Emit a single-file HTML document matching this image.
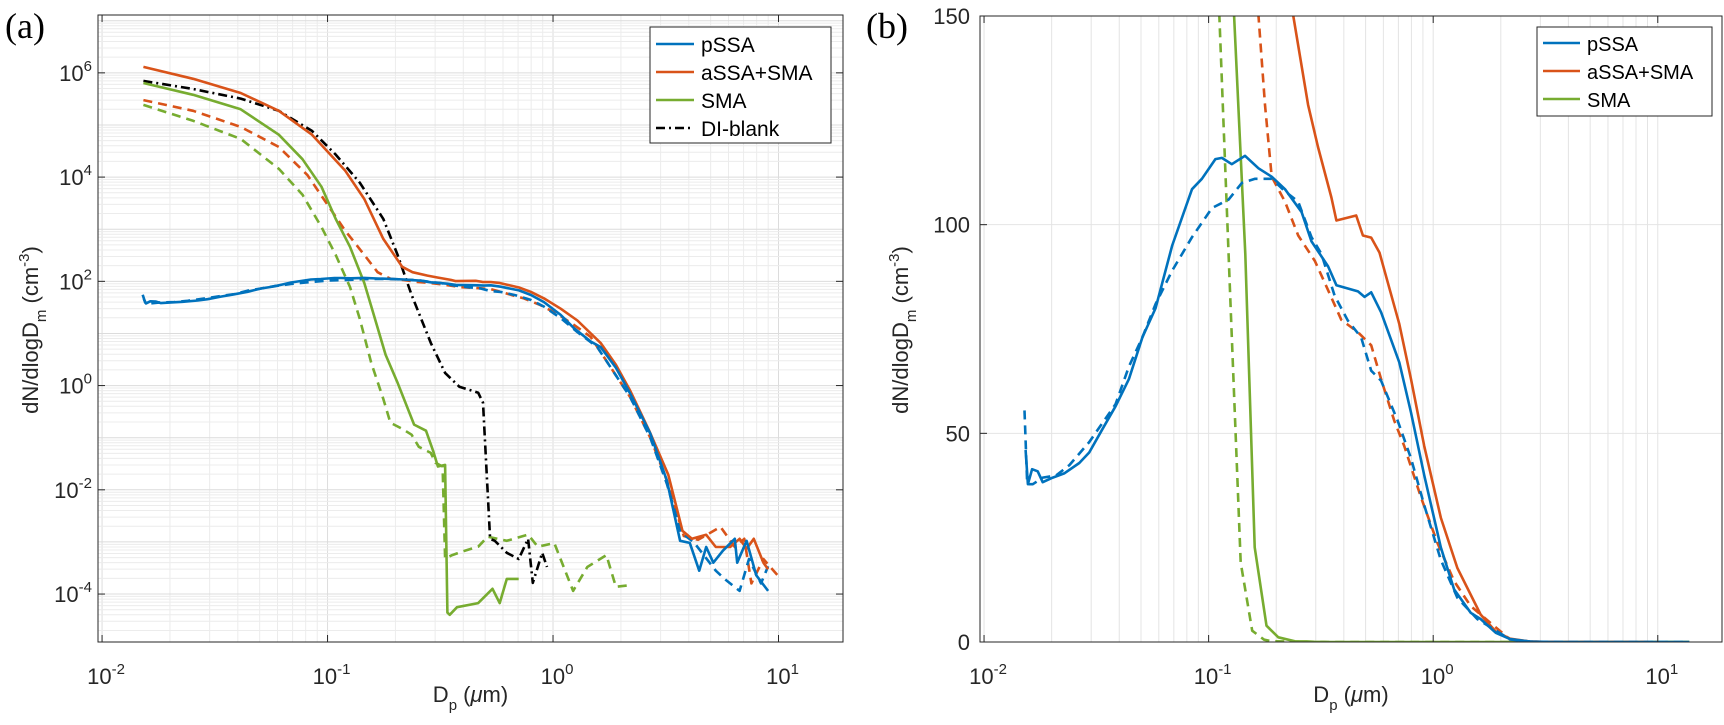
<!DOCTYPE html>
<html><head><meta charset="utf-8"><style>
body{margin:0;background:#fff}
svg{display:block;font-family:"Liberation Sans",sans-serif}
</style></head><body>
<svg id="fig" width="1724" height="725" viewBox="0 0 1724 725" xmlns="http://www.w3.org/2000/svg">
<text x="5" y="38" font-family="Liberation Serif,serif" font-size="36">(a)</text>
<text x="866" y="38" font-family="Liberation Serif,serif" font-size="36">(b)</text>
<g id="pa"></g>
<g id="pb"></g>
</svg>
<script>
// ---- data (Dp in µm, dN/dlogDm in cm^-3) ----
const pssaSolid = [[0.01531,46],[0.01567,37.8],[0.01637,41.4],[0.01734,40.9],[0.01824,38.3],[0.02023,39.4],[0.02275,40.4],[0.02655,42.9],[0.02938,45.4],[0.03365,51],[0.03855,56.5],[0.04416,63],[0.0507,73],[0.05808,80],[0.06887,95],[0.08433,108.5],[0.0933,111],[0.1072,115.7],[0.1146,116],[0.1268,114.5],[0.1452,116.5],[0.1667,113.5],[0.191,111.5],[0.2188,108.5],[0.2594,103],[0.2871,96],[0.3404,90],[0.3707,85.5],[0.4624,84],[0.4943,82.7],[0.5297,83.8],[0.5861,79],[0.7063,67],[0.7962,55],[0.912,40],[1.081,22.7],[1.239,12.6],[1.469,7],[1.626,5.5],[1.9,2.2],[2.2,0.7],[2.7,0.12],[3.2,0.015],[3.66,1.05e-3],[4.04,9.6e-4],[4.45,2.8e-4],[4.78,8e-4],[5.14,4e-4],[5.67,6.8e-4],[6.4,1.15e-3],[6.56,4e-4],[7.22,1.05e-3],[7.96,2.3e-4],[8.99,1.15e-4],[13.8,0]];
const pssaDashed = [[0.01514,55.5],[0.01556,37.8],[0.01648,37.8],[0.01824,39.4],[0.02094,39.9],[0.02399,42.4],[0.02938,47.9],[0.03855,57],[0.04416,66],[0.0507,73],[0.05808,81],[0.06887,89],[0.08433,97],[0.1035,104],[0.1227,106],[0.1406,110],[0.1611,111],[0.191,111],[0.2188,108],[0.2506,105.5],[0.2871,97],[0.3177,93],[0.3639,83],[0.4169,77],[0.4775,73],[0.5297,65],[0.5861,62.6],[0.695,53],[0.7962,44],[0.912,32.8],[1.081,19.7],[1.282,10.6],[1.57,5.5],[2.2,0.6],[2.7,0.1],[3.2,0.013],[3.7,1.5e-3],[4.2,1.0e-3],[5.27,2.8e-4],[5.81,1.9e-4],[6.72,1.15e-4],[7.4,4.7e-4],[8.36,1.6e-4],[8.99,3.4e-4],[13.8,0]];
const assaSolid = [[0.01525,1.3e6],[0.02535,7.7e5],[0.0412,4.1e5],[0.0608,1.87e5],[0.0853,6.5e4],[0.1199,1.32e4],[0.1456,3.8e3],[0.1767,653],[0.2144,190],[0.2382,150],[0.2774,128.7],[0.3069,118.6],[0.3521,106.5],[0.3707,101],[0.4539,102.2],[0.4862,97.4],[0.5297,96.9],[0.5768,93.3],[0.7063,76.2],[0.7962,63],[0.912,47],[1.081,29.8],[1.282,17.7],[1.626,6.6],[1.9,2.5],[2.201,0.79],[2.673,0.135],[3.245,0.0194],[3.75,1.63e-3],[4.13,1.15e-3],[4.78,1.37e-3],[5.27,8e-4],[6.10,8e-4],[6.72,1.15e-3],[7.22,7.4e-4],[7.77,1.15e-3],[8.57,4e-4],[8.99,3e-4]];
const assaDashed = [[0.01525,3.0e5],[0.02535,1.87e5],[0.0412,9.2e4],[0.0608,3.8e4],[0.0813,1.1e4],[0.0987,3.2e3],[0.1199,931],[0.1456,322],[0.1667,150],[0.1782,128.7],[0.191,111.5],[0.2188,105.5],[0.2506,97.4],[0.2972,91.3],[0.3404,84.3],[0.3899,77.2],[0.4624,74.2],[0.5297,71.1],[0.5861,63],[0.6714,53],[0.743,47],[0.881,34.8],[1.045,23.7],[1.239,14.6],[1.469,8.6],[2.2,0.6],[2.7,0.1],[3.2,0.015],[3.8,1.3e-3],[4.4,1.1e-3],[5.53,1.95e-3],[6.4,8e-4],[7.05,1.15e-3],[7.58,1.6e-4],[8.57,4.7e-4],[9.9,2.3e-4]];
const smaSolid = [[0.01525,6.4e5],[0.02535,3.8e5],[0.0412,2.0e5],[0.0608,6.5e4],[0.0774,2.2e4],[0.094,6.5e3],[0.1087,1.58e3],[0.1258,460],[0.1456,93],[0.1604,22.7],[0.181,3.9],[0.2044,1.13],[0.2421,0.178],[0.2733,0.136],[0.294,0.056],[0.3086,0.028],[0.332,0.030],[0.340,4.4e-5],[0.3483,4e-5],[0.375,5.6e-5],[0.4659,6.7e-5],[0.539,1.26e-4],[0.58,6.7e-5],[0.624,1.95e-4],[0.704,1.95e-4],[13.8,0]];
const smaDashed = [[0.01525,2.43e5],[0.02535,1.2e5],[0.0412,5.4e4],[0.0608,1.44e4],[0.0774,4.6e3],[0.094,1.1e3],[0.1087,322],[0.1258,78],[0.139,19],[0.1563,2.7],[0.1767,0.556],[0.19,0.193],[0.2144,0.148],[0.236,0.114],[0.254,0.067],[0.287,0.051],[0.301,0.033],[0.3237,0.028],[0.332,4.8e-4],[0.357,5.6e-4],[0.403,6.7e-4],[0.4659,8.1e-4],[0.513,1.26e-3],[0.624,1.05e-3],[0.776,1.38e-3],[0.855,8.1e-4],[1.013,9.5e-4],[1.227,1.15e-4],[1.419,3.3e-4],[1.725,5.6e-4],[1.90,1.38e-4],[2.25,1.5e-4],[13.8,0]];
const diBlank = [[0.01525,7.0e5],[0.02535,4.9e5],[0.0412,3.2e5],[0.0608,1.87e5],[0.0853,7.7e4],[0.1087,2.7e4],[0.139,7.8e3],[0.1767,1.58e3],[0.2044,322],[0.236,55],[0.287,6.6],[0.332,1.75],[0.384,0.95],[0.4659,0.73],[0.489,0.47],[0.526,1.15e-3],[0.552,1.05e-3],[0.624,6.2e-4],[0.704,4.7e-4],[0.775,1.15e-3],[0.813,1.64e-4],[0.895,6.2e-4],[0.94,3.3e-4]];
const xTickExps = [-2,-1,0,1];
const yTickExpsA = [-4,-2,0,2,4,6];
const yTicksB = [0,50,100,150];
const legendA = ["pSSA","aSSA+SMA","SMA","DI-blank"];
const legendB = ["pSSA","aSSA+SMA","SMA"];

const NS="http://www.w3.org/2000/svg";
const BLUE="#0072BD",ORANGE="#D95319",GREEN="#77AC30";
function mk(tag,attrs,parent){const e=document.createElementNS(NS,tag);for(const k in attrs)e.setAttribute(k,attrs[k]);parent.appendChild(e);return e;}
const LX0=-2.018,LX1=1.286;
function makeX(x0,x1){return v=>x0+(Math.log10(v)-LX0)/(LX1-LX0)*(x1-x0);}
function supLabel(g,x,y,exp,anchor){
  const t=mk('text',{x:x,y:y,'font-size':22,'text-anchor':anchor,fill:'#262626'},g);
  
  
  t.appendChild(document.createTextNode('10'));
  const s=mk('tspan',{dy:-10,'font-size':15},t);s.textContent=String(exp);
  return t;
}

// ===== Panel A (log-log) =====
(function(){
  const g=document.getElementById('pa');
  const L=98,R=843,T=15,B=642;
  const X=makeX(L,R);
  const Y0=-4.92,Y1=7.11;
  const Y=v=>B-(Math.log10(v)-Y0)/(Y1-Y0)*(B-T);
  const grid=mk('g',{},g);
  
  
  for(let e=-3;e<=1;e++)for(let m=1;m<10;m++){const v=m*Math.pow(10,e);const x=X(v);if(x<L||x>R)continue;
    mk('line',{x1:x,x2:x,y1:T,y2:B,stroke:m==1?'#dcdcdc':'#ececec','stroke-width':1},grid);}
  for(let e=-5;e<=7;e++)for(let m=1;m<10;m++){const v=m*Math.pow(10,e);const y=Y(v);if(y<T||y>B)continue;
    mk('line',{x1:L,x2:R,y1:y,y2:y,stroke:m==1?'#dcdcdc':'#ececec','stroke-width':1},grid);}
  const clipId='ca';const cp=mk('clipPath',{id:clipId},g);mk('rect',{x:L,y:T,width:R-L,height:B-T},cp);
  const plot=mk('g',{'clip-path':'url(#'+clipId+')'},g);
  function series(data,color,dash,name){
    const pts=data.filter(d=>d[1]>0).map(d=>X(d[0]).toFixed(1)+','+Y(d[1]).toFixed(1)).join(' ');
    const p=mk('polyline',{points:pts,fill:'none',stroke:color,'stroke-width':2.6,'stroke-dasharray':dash,'stroke-linejoin':'round'},plot);
    
    
  }
  series(smaDashed,GREEN,'9,6','sma-dashed-line');
  series(assaDashed,ORANGE,'9,6','assa-sma-dashed-line');
  series(pssaDashed,BLUE,'9,6','pssa-dashed-line');
  series(diBlank,'#000','9,4,2,4','di-blank-line');
  series(smaSolid,GREEN,'none','sma-line');
  series(assaSolid,ORANGE,'none','assa-sma-line');
  series(pssaSolid,BLUE,'none','pssa-line');
  const ax=mk('rect',{x:L,y:T,width:R-L,height:B-T,fill:'none',stroke:'#262626','stroke-width':1},g);
  
  
  xTickExps.forEach(e=>{const x=X(Math.pow(10,e));mk('line',{x1:x,x2:x,y1:B,y2:B-7,stroke:'#262626'},g);mk('line',{x1:x,x2:x,y1:T,y2:T+7,stroke:'#262626'},g);
    supLabel(g,x+4,B+42,e,'middle');});
  yTickExpsA.forEach(e=>{const y=Y(Math.pow(10,e));mk('line',{x1:L,x2:L+7,y1:y,y2:y,stroke:'#262626'},g);mk('line',{x1:R,x2:R-7,y1:y,y2:y,stroke:'#262626'},g);
    supLabel(g,L-6,y+8,e,'end');});
  const xl=mk('text',{x:(L+R)/2,y:702,'font-size':22,'text-anchor':'middle',fill:'#262626'},g);
  
  
  xl.innerHTML='D<tspan dy="8" font-size="15">p</tspan><tspan dy="-8"> (</tspan><tspan font-style="italic">μ</tspan>m)';
  const yl=mk('text',{x:0,y:0,'font-size':22,'text-anchor':'middle',fill:'#262626',transform:'translate(38,330) rotate(-90)'},g);
  
  
  yl.innerHTML='dN/dlogD<tspan dy="8" font-size="15">m</tspan><tspan dy="-8"> (cm</tspan><tspan dy="-9" font-size="15">-3</tspan><tspan dy="9">)</tspan>';
  const lg=mk('g',{},g);
  
  
  mk('rect',{x:650,y:27,width:181,height:116,fill:'#fff',stroke:'#262626','stroke-width':1},lg);
  const cols=[BLUE,ORANGE,GREEN,'#000'],dashes=['none','none','none','9,4,2,4'];
  legendA.forEach((s,i)=>{const y=44+i*28;
    const ln=mk('line',{x1:656,x2:694,y1:y,y2:y,stroke:cols[i],'stroke-width':2.6,'stroke-dasharray':dashes[i]},lg);
    
    
    const t=mk('text',{x:701,y:y+8,'font-size':21,fill:'#000'},lg);t.textContent=s;
    
    });
})();

// ===== Panel B (log-x, linear-y) =====
(function(){
  const g=document.getElementById('pb');
  const L=980,R=1722,T=16,B=642;
  const X=makeX(L,R);
  const Y=v=>B-v/150*(B-T);
  const grid=mk('g',{},g);
  
  
  for(let e=-3;e<=1;e++)for(let m=1;m<10;m++){const v=m*Math.pow(10,e);const x=X(v);if(x<L||x>R)continue;
    mk('line',{x1:x,x2:x,y1:T,y2:B,stroke:'#e4e4e4','stroke-width':1},grid);}
  yTicksB.forEach(v=>mk('line',{x1:L,x2:R,y1:Y(v),y2:Y(v),stroke:'#e4e4e4'},grid));
  const cp=mk('clipPath',{id:'cb'},g);mk('rect',{x:L,y:T,width:R-L,height:B-T},cp);
  const plot=mk('g',{'clip-path':'url(#cb)'},g);
  function series(data,color,dash,name){
    const pts=data.map(d=>X(d[0]).toFixed(1)+','+Math.max(-50,Y(d[1])).toFixed(1)).join(' ');
    const p=mk('polyline',{points:pts,fill:'none',stroke:color,'stroke-width':2.6,'stroke-dasharray':dash,'stroke-linejoin':'round'},plot);
    
    
  }
  series(smaDashed,GREEN,'9,6','sma-dashed-line');
  series(smaSolid,GREEN,'none','sma-line');
  series(assaDashed,ORANGE,'9,6','assa-sma-dashed-line');
  series(assaSolid,ORANGE,'none','assa-sma-line');
  series(pssaSolid,BLUE,'none','pssa-line');
  series(pssaDashed,BLUE,'9,6','pssa-dashed-line');
  const ax=mk('rect',{x:L,y:T,width:R-L,height:B-T,fill:'none',stroke:'#262626','stroke-width':1},g);
  
  
  xTickExps.forEach(e=>{const x=X(Math.pow(10,e));mk('line',{x1:x,x2:x,y1:B,y2:B-7,stroke:'#262626'},g);mk('line',{x1:x,x2:x,y1:T,y2:T+7,stroke:'#262626'},g);
    supLabel(g,x+4,B+42,e,'middle');});
  yTicksB.forEach(v=>{const y=Y(v);mk('line',{x1:L,x2:L+7,y1:y,y2:y,stroke:'#262626'},g);
    const t=mk('text',{x:L-10,y:y+8,'font-size':22,'text-anchor':'end',fill:'#262626'},g);t.textContent=String(v);
    
    });
  const xl=mk('text',{x:(L+R)/2,y:702,'font-size':22,'text-anchor':'middle',fill:'#262626'},g);
  
  
  xl.innerHTML='D<tspan dy="8" font-size="15">p</tspan><tspan dy="-8"> (</tspan><tspan font-style="italic">μ</tspan>m)';
  const yl=mk('text',{x:0,y:0,'font-size':22,'text-anchor':'middle',fill:'#262626',transform:'translate(908,330) rotate(-90)'},g);
  
  
  yl.innerHTML='dN/dlogD<tspan dy="8" font-size="15">m</tspan><tspan dy="-8"> (cm</tspan><tspan dy="-9" font-size="15">-3</tspan><tspan dy="9">)</tspan>';
  const lg=mk('g',{},g);
  
  
  mk('rect',{x:1537,y:27,width:175,height:89,fill:'#fff',stroke:'#262626','stroke-width':1},lg);
  const cols=[BLUE,ORANGE,GREEN];
  legendB.forEach((s,i)=>{const y=43+i*28;
    const ln=mk('line',{x1:1543,x2:1580,y1:y,y2:y,stroke:cols[i],'stroke-width':2.6},lg);
    
    
    const t=mk('text',{x:1587,y:y+8,'font-size':20,fill:'#000'},lg);t.textContent=s;
    
    });
})();
</script>
</body></html>
